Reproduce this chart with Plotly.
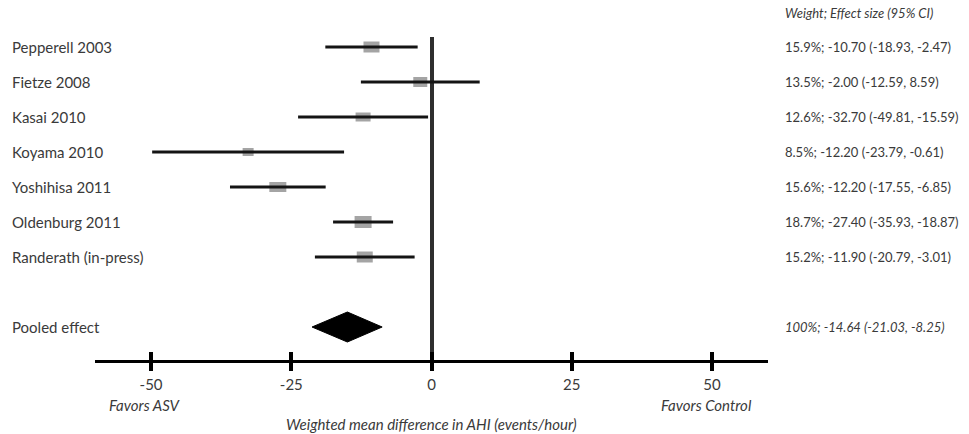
import plotly.graph_objects as go

# ---- data ----
studies = ["Pepperell 2003", "Fietze 2008", "Kasai 2010", "Koyama 2010",
           "Yoshihisa 2011", "Oldenburg 2011", "Randerath (in-press)"]
# plotted effect sizes (as drawn in the figure)
effect = [-10.70, -2.00, -12.20, -32.70, -27.40, -12.20, -11.90]
ci_low = [-18.93, -12.59, -23.79, -49.81, -35.93, -17.55, -20.79]
ci_high = [-2.47, 8.59, -0.61, -15.59, -18.87, -6.85, -3.01]
# right-hand text column
effect_text = ["15.9%; -10.70 (-18.93, -2.47)",
               "13.5%; -2.00 (-12.59, 8.59)",
               "12.6%; -32.70 (-49.81, -15.59)",
               "8.5%; -12.20 (-23.79, -0.61)",
               "15.6%; -12.20 (-17.55, -6.85)",
               "18.7%; -27.40 (-35.93, -18.87)",
               "15.2%; -11.90 (-20.79, -3.01)"]
header_text = "Weight; Effect size (95% CI)"
pooled_label = "Pooled effect"
pooled_effect = -15.0
pooled_low = -21.3
pooled_high = -8.8
pooled_text = "100%; -14.64 (-21.03, -8.25)"
tick_vals = [-50, -25, 0, 25, 50]
tick_text = ["-50", "-25", "0", "25", "50"]
x_title = "Weighted mean difference in AHI (events/hour)"
favors_left = "Favors ASV"
favors_right = "Favors Control"

# ---- styles ----
box_w_px = [16, 14, 15, 11, 17, 17, 16]
box_h_px = [11, 10, 9, 8, 10, 12, 11]
FONT = "Lato, 'Open Sans', sans-serif"
TXT = "#3a3a3a"
LSIZE = 15
RSIZE = 13
X_RANGE = [-60, 60]
ML, MR, MT, MB = 95, 201, 37, 74
W, H = 969, 434
plot_w = W - ML - MR
px_per_unit = plot_w / (X_RANGE[1] - X_RANGE[0])
row_px = 35.0
rows = list(range(len(studies)))
pooled_row = len(studies) + 1
y_top = -10 / row_px
y_bot = y_top + (H - MT - MB) / row_px

fig = go.Figure()

# confidence interval lines
fig.add_trace(go.Scatter(
    x=effect, y=rows, mode="markers",
    marker=dict(size=1, color="rgba(0,0,0,0)"),
    error_x=dict(type="data", symmetric=False,
                 array=[h - e for h, e in zip(ci_high, effect)],
                 arrayminus=[e - l for e, l in zip(effect, ci_low)],
                 thickness=3, width=0, color="#141414"),
    hoverinfo="skip", showlegend=False))

# pooled diamond
dh = 15 / row_px
fig.add_trace(go.Scatter(
    x=[pooled_low, pooled_effect, pooled_high, pooled_effect, pooled_low],
    y=[pooled_row, pooled_row - dh, pooled_row, pooled_row + dh, pooled_row],
    mode="lines", fill="toself", fillcolor="black",
    line=dict(color="black", width=1), hoverinfo="skip", showlegend=False))

# weight boxes
bw = [w / px_per_unit for w in box_w_px]
fig.add_trace(go.Bar(
    orientation="h", y=rows, x=bw,
    base=[e - b / 2 for e, b in zip(effect, bw)],
    width=[h / row_px for h in box_h_px],
    marker=dict(color="#a4a4a4", line=dict(width=0)),
    hoverinfo="skip", showlegend=False))

# invisible trace for the overlay axis (inside ticks)
fig.add_trace(go.Scatter(x=[0], y=[0], xaxis="x2", mode="markers",
                         marker=dict(size=1, color="rgba(0,0,0,0)"),
                         hoverinfo="skip", showlegend=False))

annotations = []
for r, name, t in zip(rows, studies, effect_text):
    annotations.append(dict(xref="paper", yref="y", x=(10 - ML) / plot_w, y=r,
                            text=name, showarrow=False, xanchor="left",
                            yanchor="middle", font=dict(family=FONT, size=LSIZE, color=TXT)))
    annotations.append(dict(xref="paper", yref="y", x=(783 - ML) / plot_w, y=r,
                            text=t, showarrow=False, xanchor="left",
                            yanchor="middle", font=dict(family=FONT, size=RSIZE, color=TXT)))
annotations.append(dict(xref="paper", yref="y", x=(10 - ML) / plot_w, y=pooled_row,
                        text=pooled_label, showarrow=False, xanchor="left",
                        yanchor="middle", font=dict(family=FONT, size=LSIZE, color=TXT)))
annotations.append(dict(xref="paper", yref="y", x=(783 - ML) / plot_w, y=pooled_row,
                        text="<i>" + pooled_text + "</i>", showarrow=False, xanchor="left",
                        yanchor="middle", font=dict(family=FONT, size=RSIZE, color=TXT)))
annotations.append(dict(xref="paper", yref="paper", x=(783 - ML) / plot_w,
                        y=1 + (MT - 13) / (H - MT - MB),
                        text="<i>" + header_text + "</i>", showarrow=False, xanchor="left",
                        yanchor="middle", font=dict(family=FONT, size=RSIZE, color=TXT)))
annotations.append(dict(xref="x", yref="paper", x=tick_vals[0] - 1,
                        y=-(405 - (H - MB)) / (H - MT - MB),
                        text="<i>" + favors_left + "</i>", showarrow=False, xanchor="center",
                        yanchor="middle", font=dict(family=FONT, size=LSIZE, color=TXT)))
annotations.append(dict(xref="x", yref="paper", x=tick_vals[-1] - 1,
                        y=-(405 - (H - MB)) / (H - MT - MB),
                        text="<i>" + favors_right + "</i>", showarrow=False, xanchor="center",
                        yanchor="middle", font=dict(family=FONT, size=LSIZE, color=TXT)))
annotations.append(dict(xref="x", yref="paper", x=0,
                        y=-(424 - (H - MB)) / (H - MT - MB),
                        text="<i>" + x_title + "</i>", showarrow=False, xanchor="center",
                        yanchor="middle", font=dict(family=FONT, size=LSIZE, color=TXT)))

fig.update_layout(
    width=W, height=H,
    margin=dict(l=ML, r=MR, t=MT, b=MB),
    paper_bgcolor="white", plot_bgcolor="white",
    barmode="overlay", showlegend=False,
    xaxis=dict(range=X_RANGE, showgrid=False, zeroline=True, zerolinewidth=4,
               zerolinecolor="#2e2e2e", showline=True, linewidth=3, linecolor="black",
               ticks="outside", ticklen=8, tickwidth=4, tickcolor="black",
               tickvals=tick_vals, ticktext=tick_text, ticklabelstandoff=1,
               tickfont=dict(family=FONT, size=LSIZE, color=TXT), fixedrange=True),
    xaxis2=dict(overlaying="x", matches="x", anchor="y", side="bottom",
                range=X_RANGE, showgrid=False, zeroline=False, showline=False,
                ticks="inside", ticklen=8, tickwidth=4, tickcolor="black",
                tickvals=tick_vals, showticklabels=False),
    yaxis=dict(range=[y_bot, y_top], visible=False, showgrid=False, zeroline=False),
    annotations=annotations,
)

fig.write_html("out.html", config={"displayModeBar": False},
               post_script="document.body.style.margin='0';document.body.style.overflow='hidden';")
